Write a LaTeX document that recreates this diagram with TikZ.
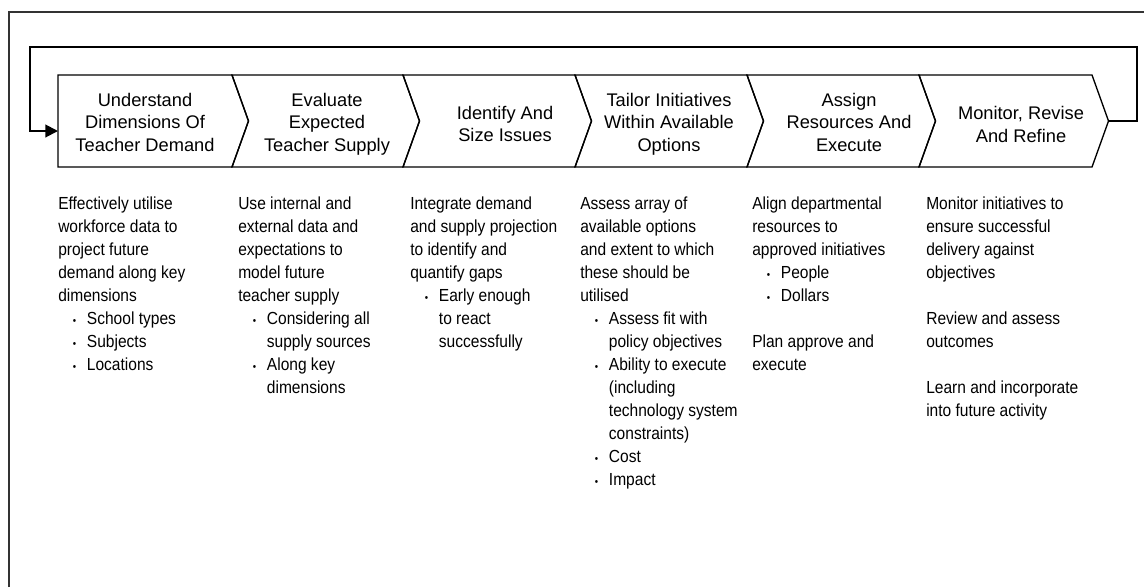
\documentclass[tikz,border=0pt]{standalone}
\usepackage{fontspec}
\setmainfont{Liberation Sans}
\newfontfamily\narrowfont[FakeStretch=0.89]{Liberation Sans}
\usepackage{tikz}
\usetikzlibrary{arrows.meta}

% bullet line and continuation line in the text columns
\newcommand{\bpt}{\hspace*{11pt}\makebox[10.5pt][l]{\raisebox{0.6pt}{\fontsize{8pt}{8pt}\selectfont\textbullet}}}
\newcommand{\bcont}{\hspace*{21.5pt}}

\begin{document}
\begin{tikzpicture}[
    x=0.75pt, y=-0.75pt,
    % chevron headings
    stage/.style={align=center, inner sep=0pt, font=\fontsize{13.7pt}{16.9pt}\selectfont},
    % text columns below the chevrons
    info/.style={align=left, anchor=north west, inner sep=0pt, font=\narrowfont\fontsize{13.1pt}{17.25pt}\selectfont},
    chev/.style={draw=black, line width=1pt, line join=miter},
    feedback/.style={-{Triangle[length=9.5pt, width=9.5pt]}, line width=1.5pt, draw=black},
    outerline/.style={draw=black!80, line width=1.1pt}
]
\useasboundingbox (0,0) rectangle (1144,587);

% Outer frame (only top and left edges are visible)
\draw[outerline] (9,587) |- (1144,12);

% 1. Chevrons
\draw[chev] (58,75) -- (232,75) -- (248.5,121) -- (232,167) -- (58,167) -- cycle;
\draw[chev] (232,75) -- (403,75) -- (419.5,121) -- (403,167) -- (232,167) -- (248.5,121) -- cycle;
\draw[chev] (403,75) -- (575,75) -- (591.5,121) -- (575,167) -- (403,167) -- (419.5,121) -- cycle;
\draw[chev] (575,75) -- (747,75) -- (763.5,121) -- (747,167) -- (575,167) -- (591.5,121) -- cycle;
\draw[chev] (747,75) -- (919,75) -- (935.5,121) -- (919,167) -- (747,167) -- (763.5,121) -- cycle;
\draw[chev] (919,75) -- (1092,75) -- (1108.5,121) coordinate (out6) -- (1092,167) -- (919,167) -- (935.5,121) -- cycle;
\coordinate (in1) at (58,131);

% 2. Headings
\node[stage] (und) at (145,122) {Understand\\Dimensions Of\\Teacher Demand};
\node[stage] (eval) at (327,124) {Evaluate\\Expected\\Teacher Supply};
\node[stage] (ident) at (505,124) {Identify And\\Size Issues};
\node[stage] (tailor) at (669,124) {Tailor Initiatives\\Within Available\\Options};
\node[stage] (assign) at (849,122) {Assign\\Resources And\\Execute};
\node[stage] (monitor) at (1021,124.5) {Monitor, Revise\\And Refine};

% 3. Feedback loop
\draw[feedback] (out6) -- ++(28,0) |- (30,47) |- (in1);

% --- TEXT COLUMNS ---

% Understand demand
\node[info] (info_und) at (58,197) {
    Effectively utilise\\
    workforce data to\\
    project future\\
    demand along key\\
    dimensions\\
    \bpt School types\\
    \bpt Subjects\\
    \bpt Locations
};

% Evaluate supply
\node[info] (info_eval) at (238,197) {
    Use internal and\\
    external data and\\
    expectations to\\
    model future\\
    teacher supply\\
    \bpt Considering all\\
    \bcont supply sources\\
    \bpt Along key\\
    \bcont dimensions
};

% Identify issues
\node[info] (info_ident) at (410,197) {
    Integrate demand\\
    and supply projection\\
    to identify and\\
    quantify gaps\\
    \bpt Early enough\\
    \bcont to react\\
    \bcont successfully
};

% Tailor initiatives
\node[info] (info_tailor) at (580,197) {
    Assess array of\\
    available options\\
    and extent to which\\
    these should be\\
    utilised\\
    \bpt Assess fit with\\
    \bcont policy objectives\\
    \bpt Ability to execute\\
    \bcont (including\\
    \bcont technology system\\
    \bcont constraints)\\
    \bpt Cost\\
    \bpt Impact
};

% Assign resources
\node[info] (info_assign) at (752,197) {
    Align departmental\\
    resources to\\
    approved initiatives\\
    \bpt People\\
    \bpt Dollars\\[17.25pt]
    Plan approve and\\
    execute
};

% Monitor
\node[info] (info_monitor) at (926,197) {
    Monitor initiatives to\\
    ensure successful\\
    delivery against\\
    objectives\\[17.25pt]
    Review and assess\\
    outcomes\\[17.25pt]
    Learn and incorporate\\
    into future activity
};

\end{tikzpicture}
\end{document}
